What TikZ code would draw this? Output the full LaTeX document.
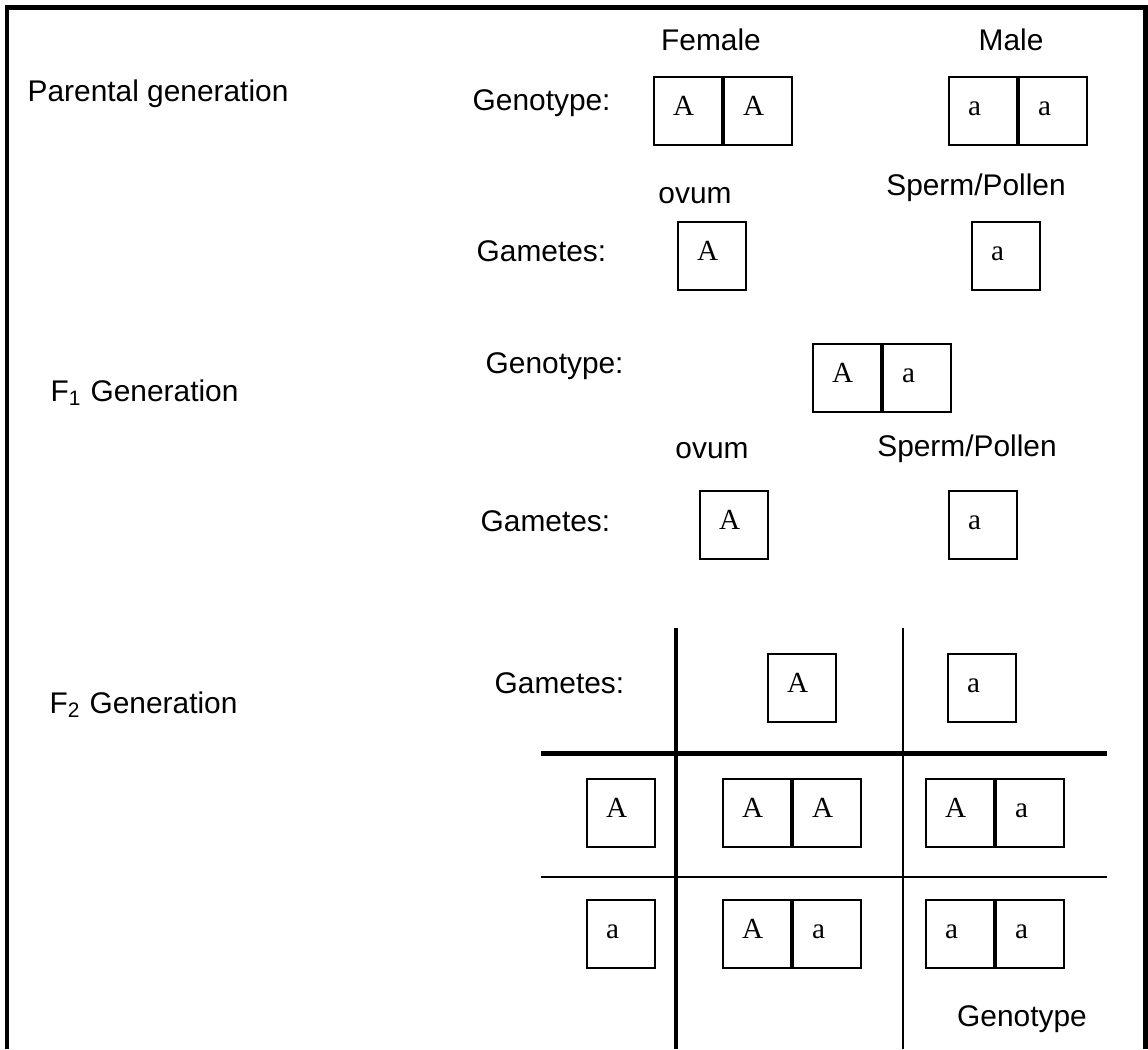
\documentclass[tikz,border=0pt]{standalone}
\usepackage{fontspec}
\setmainfont{Liberation Sans}
\newfontfamily\allelefont{Liberation Serif}
\usetikzlibrary{positioning}

\tikzset{
  cell/.style={draw, line width=0.6pt, minimum height=6.8mm, inner xsep=1.9mm, inner ysep=0pt,
    text width=3mm, align=left, text height=2.4mm, text depth=1.6mm,
    font=\allelefont\fontsize{8.3}{9}\selectfont},
  lbl/.style={inner sep=0pt, font=\fontsize{8.5}{10}\selectfont},
  thickrule/.style={line width=1.15pt},
  thinrule/.style={line width=0.55pt}
}

\begin{document}
\begin{tikzpicture}[x=0.1mm, y=-0.1mm]
        \useasboundingbox (0,0) rectangle (1148,1049);

        % Frame
        \draw[line width=1.3pt] (7,1049) -- (7,7.5) -- (1145.5,7.5) -- (1145.5,1049);

        % Parental generation
        \node[lbl, anchor=base west] (parental) at (27,101) {Parental generation};
        \node[lbl, anchor=base] (female) at (711,50) {Female};
        \node[lbl, anchor=base] (male) at (1011,50) {Male};
        \node[lbl, anchor=base west] (pgeno) at (472,110) {Genotype:};
        \node[cell, anchor=north west] (pf1) at (653,76) {A};
        \node[cell, right=0pt of pf1] (pf2) {A};
        \node[cell, anchor=north west] (pm1) at (948,76) {a};
        \node[cell, right=0pt of pm1] (pm2) {a};

        % Parental gametes
        \node[lbl, anchor=base] (povum) at (695,203) {ovum};
        \node[lbl, anchor=base] (psperm) at (976,195) {Sperm/Pollen};
        \node[lbl, anchor=base west] (pgam) at (476,261) {Gametes:};
        \node[cell, anchor=north west] (pegg) at (677,221) {A};
        \node[cell, anchor=north west] (ppollen) at (971,221) {a};

        % F1 generation
        \node[lbl, anchor=base west] (fone) at (50,401) {F\textsubscript{1} Generation};
        \node[lbl, anchor=base west] (fgeno) at (485,373) {Genotype:};
        \node[cell, anchor=north west] (f1) at (812,343) {A};
        \node[cell, right=0pt of f1] (f2) {a};

        % F1 gametes
        \node[lbl, anchor=base] (fovum) at (712,458) {ovum};
        \node[lbl, anchor=base] (fsperm) at (967,456) {Sperm/Pollen};
        \node[lbl, anchor=base west] (fgam) at (480,531) {Gametes:};
        \node[cell, anchor=north west] (fegg) at (699,490) {A};
        \node[cell, anchor=north west] (fpollen) at (948,490) {a};

        % F2 generation
        \node[lbl, anchor=base west] (ftwo) at (49,713) {F\textsubscript{2} Generation};
        \node[lbl, anchor=base west] (sgam) at (494,693) {Gametes:};

        % Punnett square rules
        \draw[thickrule] (676,628) -- (676,1049);
        \draw[thinrule] (903,628) -- (903,1049);
        \draw[thickrule] (541,753.5) -- (1107,753.5);
        \draw[thinrule] (541,877) -- (1107,877);

        % Header gametes
        \node[cell, anchor=north west] (hA) at (767,653) {A};
        \node[cell, anchor=north west] (ha) at (947,653) {a};
        \node[cell, anchor=north west] (vA) at (586,778) {A};
        \node[cell, anchor=north west] (va) at (586,899) {a};

        % Offspring
        \node[cell, anchor=north west] (AA1) at (722,778) {A};
        \node[cell, right=0pt of AA1] (AA2) {A};
        \node[cell, anchor=north west] (Aa1) at (925,778) {A};
        \node[cell, right=0pt of Aa1] (Aa2) {a};
        \node[cell, anchor=north west] (aA1) at (722,899) {A};
        \node[cell, right=0pt of aA1] (aA2) {a};
        \node[cell, anchor=north west] (aa1) at (925,899) {a};
        \node[cell, right=0pt of aa1] (aa2) {a};
        \node[lbl, anchor=base] (sgeno) at (1022,1026) {Genotype};
\end{tikzpicture}
\end{document}
